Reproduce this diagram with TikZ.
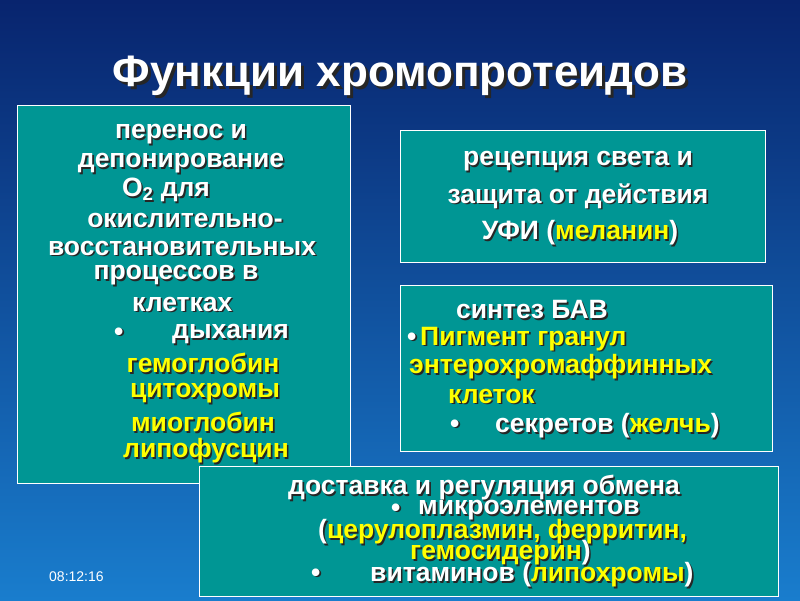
\documentclass[tikz,border=0pt]{standalone}
\usepackage{fontspec}
\setmainfont{Liberation Sans}
\definecolor{bgtop}{RGB}{8,36,110}
\definecolor{bgbot}{RGB}{25,125,205}
\definecolor{teal}{RGB}{0,150,148}
\definecolor{yel}{RGB}{255,255,0}
\newcommand{\Y}[1]{\textcolor{yel}{#1}}
\newcommand{\Ln}[5]{%
  \node[txt,anchor=#4,text=black!85] at (#2+1.6,#3+1.6) {\def\Y##1{##1}#5};
  \node[txt,anchor=#4] (#1) at (#2,#3) {#5};}
\begin{document}
\begin{tikzpicture}[x=1pt,y=-1pt,
  txt/.style={inner sep=0pt,font=\bfseries\fontsize{26.5}{28}\selectfont,text=white},
  box/.style={draw=white,line width=0.8pt,fill=teal}]
\useasboundingbox (0,0) rectangle (800,600);
\shade[top color=bgtop,bottom color=bgbot] (0,0) rectangle (800,600);
% title
\node[font=\bfseries\fontsize{44}{46}\selectfont,text=black!85] at (403,79) {Функции хромопротеидов};
\node[font=\bfseries\fontsize{44}{46}\selectfont,text=white] (title) at (400,76) {Функции хромопротеидов};
% boxes
\draw[box] (17,105) rectangle (350,483);
\draw[box] (400,130) rectangle (765,262);
\draw[box] (400,285) rectangle (772,451);
\draw[box] (199,466) rectangle (778,596);
% left box
\Ln{a1}{181}{134}{center}{перенос и}
\Ln{a2}{181}{163}{center}{депонирование}
\Ln{a3}{166}{190}{center}{O\textsubscript{2} для}
\Ln{a4}{185}{220}{center}{окислительно-}
\Ln{a5}{182}{248}{center}{восстановительных}
\Ln{a6}{176}{275}{center}{процессов в}
\Ln{a7}{132}{304}{west}{клетках}
\Ln{a8}{114}{334}{west}{•}
\Ln{a9}{172}{334}{west}{дыхания}
\Ln{a10}{203}{363}{center}{\Y{гемоглобин}}
\Ln{a11}{205}{393}{center}{\Y{цитохромы}}
\Ln{a12}{203}{422}{center}{\Y{миоглобин}}
\Ln{a13}{206}{451}{center}{\Y{липофусцин}}
% top right
\Ln{b1}{578}{161}{center}{рецепция света и}
\Ln{b2}{578}{196}{center}{защита от действия}
\Ln{b3}{580}{233}{center}{УФИ (\Y{меланин})}
% mid right
\Ln{c1}{456}{310}{west}{синтез БАВ}
\Ln{c2}{407}{339}{west}{•}
\Ln{c3}{420}{339}{west}{\Y{Пигмент гранул}}
\Ln{c4}{409}{367}{west}{\Y{энтерохромаффинных}}
\Ln{c5}{448}{396}{west}{\Y{клеток}}
\Ln{c6}{450}{426}{west}{•}
\Ln{c7}{495}{426}{west}{секретов (\Y{желчь})}
% bottom
\Ln{d1}{288}{488}{west}{доставка и регуляция обмена}
\Ln{d2}{391}{510}{west}{•}
\Ln{d3}{418}{510}{west}{микроэлементов}
\Ln{d4}{318}{532}{west}{(\Y{церулоплазмин, ферритин,}}
\Ln{d5}{410}{553}{west}{\Y{гемосидерин})}
\Ln{d6}{311}{575}{west}{•}
\Ln{d7}{370}{575}{west}{витаминов (\Y{липохромы})}
\node[font=\fontsize{14}{16}\selectfont,text=white,anchor=west,inner sep=0pt] (time) at (49,577) {08:12:16};
\end{tikzpicture}
\end{document}
